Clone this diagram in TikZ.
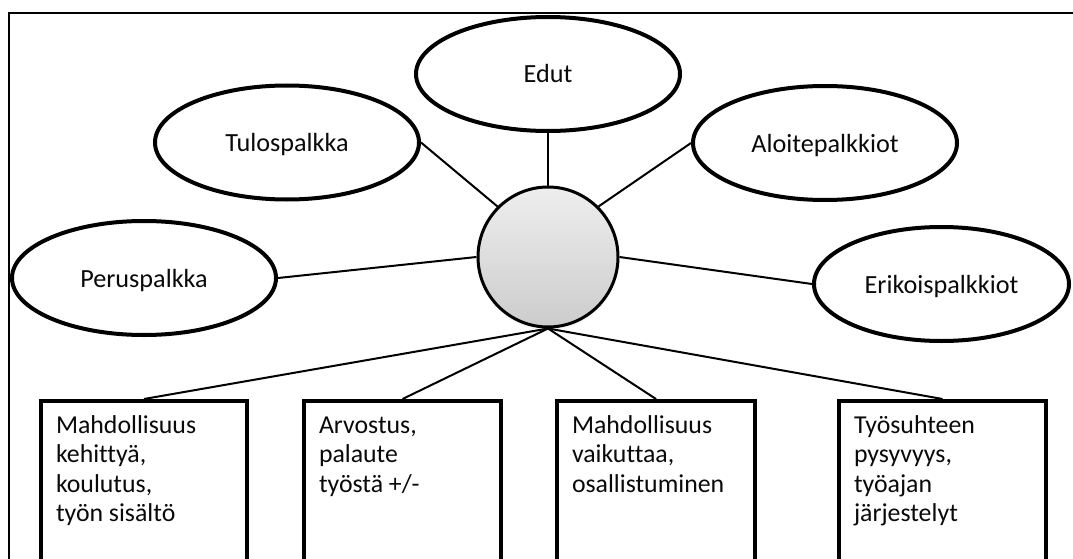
\documentclass[tikz,border=0pt]{standalone}
\usepackage{fontspec}
\setmainfont{Carlito}[Ligatures=NoCommon]
\usetikzlibrary{shapes.geometric,shadows}
\definecolor{ctop}{RGB}{238,238,238}
\definecolor{cbot}{RGB}{204,204,204}
\definecolor{txt}{RGB}{10,10,10}
\newcommand\boxtxt[2]{\parbox[t][175pt][t]{#1}{\rule{0pt}{19pt}#2}}
\begin{document}
\begin{tikzpicture}[x=1pt,y=-1pt,
  font=\fontsize{25.8}{29.5}\selectfont, text=txt,
  ovalnode/.style={ellipse, draw, line width=4pt, fill=white,
    minimum width=264pt, minimum height=114pt, inner sep=0pt,
    font=\fontsize{26.2}{29.5}\selectfont,
    text height=18pt, text depth=0pt},
  textbox/.style={rectangle, draw, line width=4pt, fill=white,
    anchor=north west, minimum width=#1, inner xsep=15pt, inner ysep=13pt},
  conn/.style={line width=2pt},
  hub/.style={circle, draw, line width=3pt, minimum size=140pt, inner sep=0pt,
    top color=ctop, bottom color=cbot,
    circular drop shadow={shadow xshift=0pt, shadow yshift=-3pt, shadow scale=1.02, opacity=0.25}}
]
\useasboundingbox (0,0) rectangle (1073,559);
\clip (0,0) rectangle (1073,559);
\fill[white] (0,0) rectangle (1073,559);
% outer frame (only top and left visible)
\draw[line width=2pt] (9,620) -- (9,13) -- (1120,13);

% ellipses
\node[ovalnode] (edut)   at (548,74)    {Edut};
\node[ovalnode] (tulos)  at (287,142.5) {Tulospalkka};
\node[ovalnode] (aloite) at (825,143)   {Aloitepalkkiot};
\node[ovalnode] (perus)  at (144,278)   {Peruspalkka};
\node[ovalnode, minimum width=255pt] (erik) at (941.5,284) {Erikoispalkkiot};

% centre circle
\node[hub] (c) at (548,257) {};

% boxes
\node[textbox=206pt] (b1) at (39,399)  {\boxtxt{176pt}{Mahdollisuus\\kehittyä,\\koulutus,\\työn sisältö}};
\node[textbox=197pt] (b2) at (302,399) {\boxtxt{167pt}{Arvostus,\\palaute\\työstä +/-}};
\node[textbox=198pt] (b3) at (555,399) {\boxtxt{168pt}{Mahdollisuus\\vaikuttaa,\\osallistuminen}};
\node[textbox=207pt] (b4) at (837,399) {\boxtxt{177pt}{Työsuhteen\\pysyvyys,\\työajan\\järjestelyt}};

% connectors
\draw[conn] (edut.south) -- (c.north);
\draw[conn] (tulos.east) -- (c.north west);
\draw[conn] (aloite.west) -- (c.north east);
\draw[conn] (perus.east) -- (c.west);
\draw[conn] (erik.west) -- (c.east);
\draw[conn] (c.south) -- (b1.north);
\draw[conn] (c.south) -- (b2.north);
\draw[conn] (c.south) -- (b3.north);
\draw[conn] (c.south) -- (b4.north);
\end{tikzpicture}
\end{document}
